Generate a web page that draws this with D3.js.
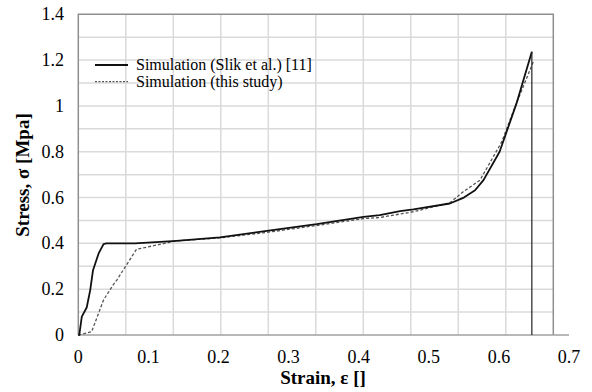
<!DOCTYPE html>
<html>
<head>
<meta charset="utf-8">
<script src="https://cdn.jsdelivr.net/npm/d3@7"></script>
<style>
    body { margin: 0; background: #fff; }
    svg { display: block; font-family: "Liberation Serif", "Times New Roman", serif; }
</style>
</head>
<body>
<svg id="chart"></svg>
<script>
// Simulation (Slik et al.) [11]  -- [strain, stress]; last point is the failure drop
const slikStrain = [0, 0.0014, 0.005, 0.012, 0.017, 0.021, 0.029, 0.036, 0.040, 0.069, 0.081, 0.14, 0.202, 0.269, 0.34, 0.407, 0.43, 0.459, 0.478, 0.53, 0.55, 0.566, 0.578, 0.601, 0.625, 0.647, 0.647];
const slikStress = [0, 0, 0.08, 0.12, 0.196, 0.283, 0.356, 0.397, 0.40, 0.40, 0.40, 0.411, 0.426, 0.455, 0.484, 0.516, 0.523, 0.541, 0.548, 0.574, 0.60, 0.632, 0.676, 0.80, 1.01, 1.236, 0];

// Simulation (this study)
const studyStrain = [0, 0.019, 0.036, 0.05, 0.055, 0.083, 0.14, 0.202, 0.269, 0.34, 0.407, 0.43, 0.478, 0.53, 0.549, 0.573, 0.604, 0.623, 0.649];
const studyStress = [0, 0.014, 0.153, 0.22, 0.24, 0.374, 0.411, 0.424, 0.448, 0.478, 0.508, 0.513, 0.538, 0.577, 0.625, 0.676, 0.843, 0.996, 1.192];

const xTicks = [0, 0.1, 0.2, 0.3, 0.4, 0.5, 0.6, 0.7];
const yTicks = [0, 0.2, 0.4, 0.6, 0.8, 1, 1.2, 1.4];
const legendLabels = ["Simulation (Slik et al.) [11]", "Simulation (this study)"];

const width = 592, height = 392;
const plotLeft = 78.3, plotTop = 14.3, boxRight = 553.3, plotBottom = 335;

const svg = d3.select("#chart").attr("width", width).attr("height", height);

const x = d3.scaleLinear().domain([0, 0.7]).range([plotLeft, 569]);
const y = d3.scaleLinear().domain([0, 1.4]).range([plotBottom, plotTop]);

// gridlines (vertical ones split the plot box in 10)
const vGrid = d3.scaleLinear().domain([0, 10]).range([plotLeft, boxRight]);
svg.append("g").selectAll("line")
    .data(d3.range(1, 10))
    .join("line")
    .attr("x1", d => vGrid(d)).attr("x2", d => vGrid(d))
    .attr("y1", plotTop).attr("y2", plotBottom)
    .attr("stroke", "#dadada").attr("stroke-width", 1.5);
svg.append("g").selectAll("line")
    .data(d3.range(1, 14).map(d => d / 10))
    .join("line")
    .attr("x1", plotLeft).attr("x2", boxRight)
    .attr("y1", d => y(d)).attr("y2", d => y(d))
    .attr("stroke", "#dadada").attr("stroke-width", 1.5);

// plot box
svg.append("path")
    .attr("d", `M${plotLeft},${plotBottom} V${plotTop} H${boxRight} V${plotBottom}`)
    .attr("fill", "none").attr("stroke", "#8f8f8f").attr("stroke-width", 1.5);
svg.append("line")
    .attr("x1", plotLeft).attr("x2", x(0.7))
    .attr("y1", plotBottom).attr("y2", plotBottom)
    .attr("stroke", "#a0a0a0").attr("stroke-width", 1.5);

// tick labels
svg.append("g").selectAll("text")
    .data(xTicks)
    .join("text")
    .attr("x", d => x(d)).attr("y", 363)
    .attr("text-anchor", "middle")
    .attr("font-size", 18)
    .text(d => d3.format("")(d));
svg.append("g").selectAll("text")
    .data(yTicks)
    .join("text")
    .attr("x", 64).attr("y", d => y(d) + 6)
    .attr("text-anchor", "end")
    .attr("font-size", 18)
    .text(d => d3.format("")(d));

// axis titles
svg.append("text")
    .attr("x", 323).attr("y", 384)
    .attr("text-anchor", "middle")
    .attr("font-size", 19).attr("font-weight", "bold")
    .text("Strain, ε []");
svg.append("text")
    .attr("transform", "translate(29,175) rotate(-90)")
    .attr("text-anchor", "middle")
    .attr("font-size", 19).attr("font-weight", "bold")
    .text("Stress, σ [Mpa]");

// curves
const line = d3.line().x(d => x(d[0])).y(d => y(d[1]));
const slik = slikStrain.map((s, i) => [s, slikStress[i]]);
const study = studyStrain.map((s, i) => [s, studyStress[i]]);

svg.append("path")
    .attr("d", line(study))
    .attr("fill", "none").attr("stroke", "#555").attr("stroke-width", 1.3)
    .attr("stroke-dasharray", "3,2");
svg.append("path")
    .attr("d", line(slik.slice(0, -1)))
    .attr("fill", "none").attr("stroke", "#111").attr("stroke-width", 1.8)
    .attr("stroke-linejoin", "round");
// drop at failure, thinner
svg.append("path")
    .attr("d", line(slik.slice(-2)))
    .attr("fill", "none").attr("stroke", "#222").attr("stroke-width", 1.2);

// legend
const legend = svg.append("g");
legendLabels.forEach((label, i) => {
    const ly = 65 + i * 16.7;
    legend.append("line")
        .attr("x1", 95).attr("x2", 128).attr("y1", ly).attr("y2", ly)
        .attr("stroke", i === 0 ? "#111" : "#555")
        .attr("stroke-width", i === 0 ? 1.8 : 1.2)
        .attr("stroke-dasharray", i === 0 ? null : "2,1.5");
    legend.append("text")
        .attr("x", 136).attr("y", ly + 5)
        .attr("font-size", 16)
        .text(label);
});
</script>
</body>
</html>
